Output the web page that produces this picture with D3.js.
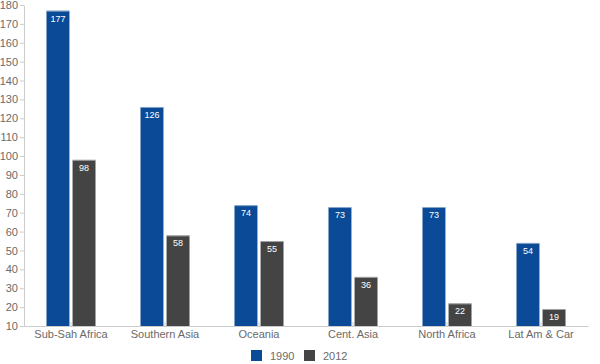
<!DOCTYPE html>
<html>
<head>
<meta charset="utf-8">
<script src="https://cdn.jsdelivr.net/npm/d3@7"></script>
<style>
  body { margin: 0; background: #fff; }
  text { font-family: "Liberation Sans", Arial, sans-serif; }
</style>
</head>
<body>
<div id="chart"></div>
<script>
// data
var regions = ["Sub-Sah Africa", "Southern Asia", "Oceania", "Cent. Asia", "North Africa", "Lat Am & Car"];
var seriesNames = ["1990", "2012"];
var values1990 = [177, 126, 74, 73, 73, 54];
var values2012 = [98, 58, 55, 36, 22, 19];
var yTicks = [10, 20, 30, 40, 50, 60, 70, 80, 90, 100, 110, 120, 130, 140, 150, 160, 170, 180];
var colors = ["#0a4a96", "#444444"];

var margin = { top: 5, right: 12, bottom: 38, left: 24 },
    width = 600 - margin.left - margin.right,
    height = 364 - margin.top - margin.bottom;

var svg = d3.select("#chart")
    .append("svg")
    .attr("width", 600)
    .attr("height", 364)
    .append("g")
    .attr("transform", "translate(" + margin.left + "," + margin.top + ")");

var x = d3.scaleBand()
    .domain(regions)
    .range([0, width]);

var x1 = d3.scaleBand()
    .domain(seriesNames)
    .range([x.bandwidth() / 2 - 24.5, x.bandwidth() / 2 + 24.5])
    .paddingInner(0.12);

var y = d3.scaleLinear()
    .domain([10, 180])
    .range([height, 0]);

// axes
var yAxis = svg.append("g")
    .call(d3.axisLeft(y).tickValues(yTicks).tickSize(4).tickSizeOuter(0));
yAxis.selectAll("text").attr("font-size", "11px").attr("fill", "#6a6a6a").attr("dx", "1");
yAxis.selectAll("line, path").attr("stroke", "#ccc");

var xAxis = svg.append("g")
    .attr("transform", "translate(0," + height + ")")
    .call(d3.axisBottom(x).tickSize(4).tickSizeOuter(0));
xAxis.selectAll("text").attr("font-size", "11px").attr("fill", "#6a6a6a").attr("y", 4);
xAxis.selectAll("line, path").attr("stroke", "#ccc");
xAxis.selectAll("line").attr("y1", -4).attr("y2", 0);

// bars
var rows = regions.map(function (r, i) {
    return { region: r, vals: [values1990[i], values2012[i]] };
});

var groups = svg.selectAll(".grp")
    .data(rows)
    .enter()
    .append("g")
    .attr("transform", function (d) { return "translate(" + x(d.region) + ",0)"; });

var bars = groups.selectAll("g.bar")
    .data(function (d) {
        return d.vals.map(function (v, j) { return { key: seriesNames[j], value: v, idx: j }; });
    })
    .enter()
    .append("g");

bars.append("rect")
    .attr("x", function (d) { return x1(d.key); })
    .attr("y", function (d) { return y(d.value); })
    .attr("width", x1.bandwidth())
    .attr("height", function (d) { return height - y(d.value); })
    .attr("fill", function (d) { return colors[d.idx]; });

// light top edge
bars.append("rect")
    .attr("x", function (d) { return x1(d.key); })
    .attr("y", function (d) { return y(d.value); })
    .attr("width", x1.bandwidth())
    .attr("height", 1)
    .attr("fill", "#ffffff")
    .attr("opacity", 0.5);

bars.append("text")
    .text(function (d) { return d.value; })
    .attr("x", function (d) { return x1(d.key) + x1.bandwidth() / 2; })
    .attr("y", function (d) { return y(d.value) + 11; })
    .attr("text-anchor", "middle")
    .attr("font-size", "9px")
    .attr("fill", "#fff");

// legend
var legend = svg.append("g")
    .attr("transform", "translate(" + (251 - margin.left) + "," + (350 - margin.top) + ")");

seriesNames.forEach(function (s, i) {
    var lg = legend.append("g").attr("transform", "translate(" + (i * 53) + ",0)");
    lg.append("rect")
        .attr("width", 11)
        .attr("height", 11)
        .attr("fill", colors[i]);
    lg.append("text")
        .attr("x", 19)
        .attr("y", 10)
        .attr("font-size", "11px")
        .attr("fill", "#6a6a6a")
        .text(s);
});
</script>
</body>
</html>
